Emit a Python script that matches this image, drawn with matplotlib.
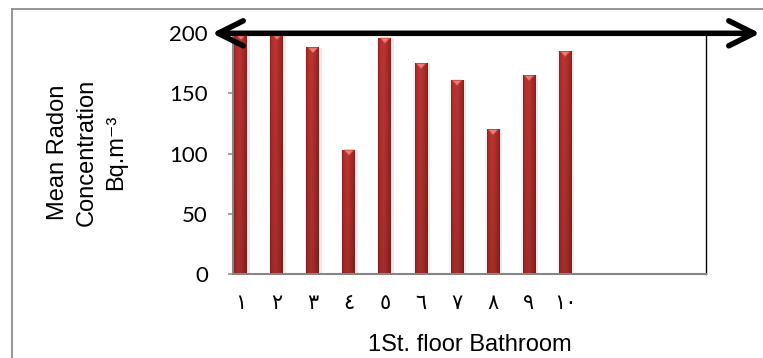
"""Mean radon concentration per first-floor bathroom, drawn as shaded columns."""

import matplotlib.pyplot as plt
import numpy as np
from matplotlib.lines import Line2D
from matplotlib.patches import FancyArrowPatch

W, H, DPI = 763, 358, 100

# --------------------------------------------------------------------------- #
# Data
# --------------------------------------------------------------------------- #
bathrooms = ["١", "٢", "٣", "٤", "٥", "٦", "٧", "٨", "٩", "١٠"]
radon = [199, 199, 188, 103, 196, 175, 161, 120, 165, 185]
y_ticks = [0, 50, 100, 150, 200]
x_title = "1St. floor Bathroom"
y_title = "Mean Radon\nConcentration\nBq.m⁻³"

BAR_WIDTH = 0.36
AXIS_GREY = "#868686"


def _px(x=None, y=None):
  """Pixel position (from top-left) to figure fraction."""
  if x is not None and y is None:
    return x / W
  if x is None:
    return 1 - y / H
  return x / W, 1 - y / H


def _cylinder_image(n=64, rows=32):
  """RGB image that gives a column a rounded, lit-from-left look."""
  t = np.linspace(0, 1, n)
  prof = 0.6 + 0.4 * np.exp(-((t - 0.4) / 0.4) ** 2)
  prof[:3] *= np.array([0.45, 0.7, 0.9])
  prof[-3:] *= np.array([0.9, 0.7, 0.45])
  light = np.array([0.74, 0.20, 0.19])
  dark = np.array([0.30, 0.05, 0.05])
  row = dark + (light - dark) * prof[:, None]
  fade = np.linspace(0.88, 1.0, rows)  # darker toward the base
  return np.clip(row[None, :, :] * fade[:, None, None], 0, 1)


fig = plt.figure(figsize=(W / DPI, H / DPI), dpi=DPI)
left, right = _px(x=233), _px(x=705.5)
bottom, top = _px(y=274), _px(y=33.3)
ax = fig.add_axes([left, bottom, right - left, top - bottom])

x = np.arange(len(bathrooms))

# soft drop shadow, then the columns themselves
for dx, a in ((0.07, 0.08), (-0.04, 0.05)):
  ax.bar(x + dx, radon, BAR_WIDTH, color="black", alpha=a, zorder=1.5, lw=0)
bars = ax.bar(x, radon, BAR_WIDTH, color="#9e2626", zorder=2, lw=0)

shade = _cylinder_image()
for rect in bars:
  x0, w, h = rect.get_x(), rect.get_width(), rect.get_height()
  ax.imshow(shade, extent=(x0, x0 + w, 0, h), aspect="auto",
            origin="lower", zorder=2.1, interpolation="bilinear")
  xc = x0 + w / 2
  ax.fill([x0 + 0.12 * w, x0 + 0.88 * w, xc], [h, h, h - 4.5],
          color="#ee7c74", ec="#c8443e", lw=0.5, zorder=2.2)

ax.set_xlim(-0.22, 12.9)
ax.set_ylim(0, 200)

ax.set_yticks(y_ticks)
ax.set_yticklabels([str(v) for v in y_ticks], family="Lato", fontsize=16)
ax.tick_params(axis="y", length=3.6, width=1.1, color=AXIS_GREY,
               pad=14.5, direction="out")

ax.set_xticks(x)
ax.set_xticklabels(bathrooms, family="DejaVu Sans", fontsize=15)
ax.tick_params(axis="x", length=0, pad=14)

for side in ("left", "bottom"):
  ax.spines[side].set_color(AXIS_GREY)
  ax.spines[side].set_linewidth(1.5)
ax.spines["right"].set_color("black")
ax.spines["right"].set_linewidth(1.0)
ax.spines["top"].set_color("black")

# y title and x title set as free figure text
fig.text(_px(x=87), _px(y=152), y_title, rotation=90, ha="center",
         va="center", multialignment="center",
         family=["Liberation Sans", "DejaVu Sans"], fontsize=17,
         linespacing=1.4)
fig.text(_px(x=470), _px(y=345), x_title, ha="center", va="center",
         family="Liberation Sans", fontsize=17)

# double-headed marker line along the 200 level
arrow = FancyArrowPatch(
  _px(212, 33.3), _px(760, 33.3), transform=fig.transFigure,
  arrowstyle="<->,head_length=18,head_width=9", mutation_scale=1,
  lw=4, color="black", shrinkA=0, shrinkB=0, zorder=10)
fig.add_artist(arrow)

# outer chart frame (only left and top edges fall inside the image)
for xs, ys in (([12, 12], [9, H]), ([12, W], [9, 9])):
  fig.add_artist(Line2D([_px(x=v) for v in xs], [_px(y=v) for v in ys],
                        transform=fig.transFigure, color="#8e8e8e", lw=1.3))

fig.savefig("out.png", dpi=DPI)
